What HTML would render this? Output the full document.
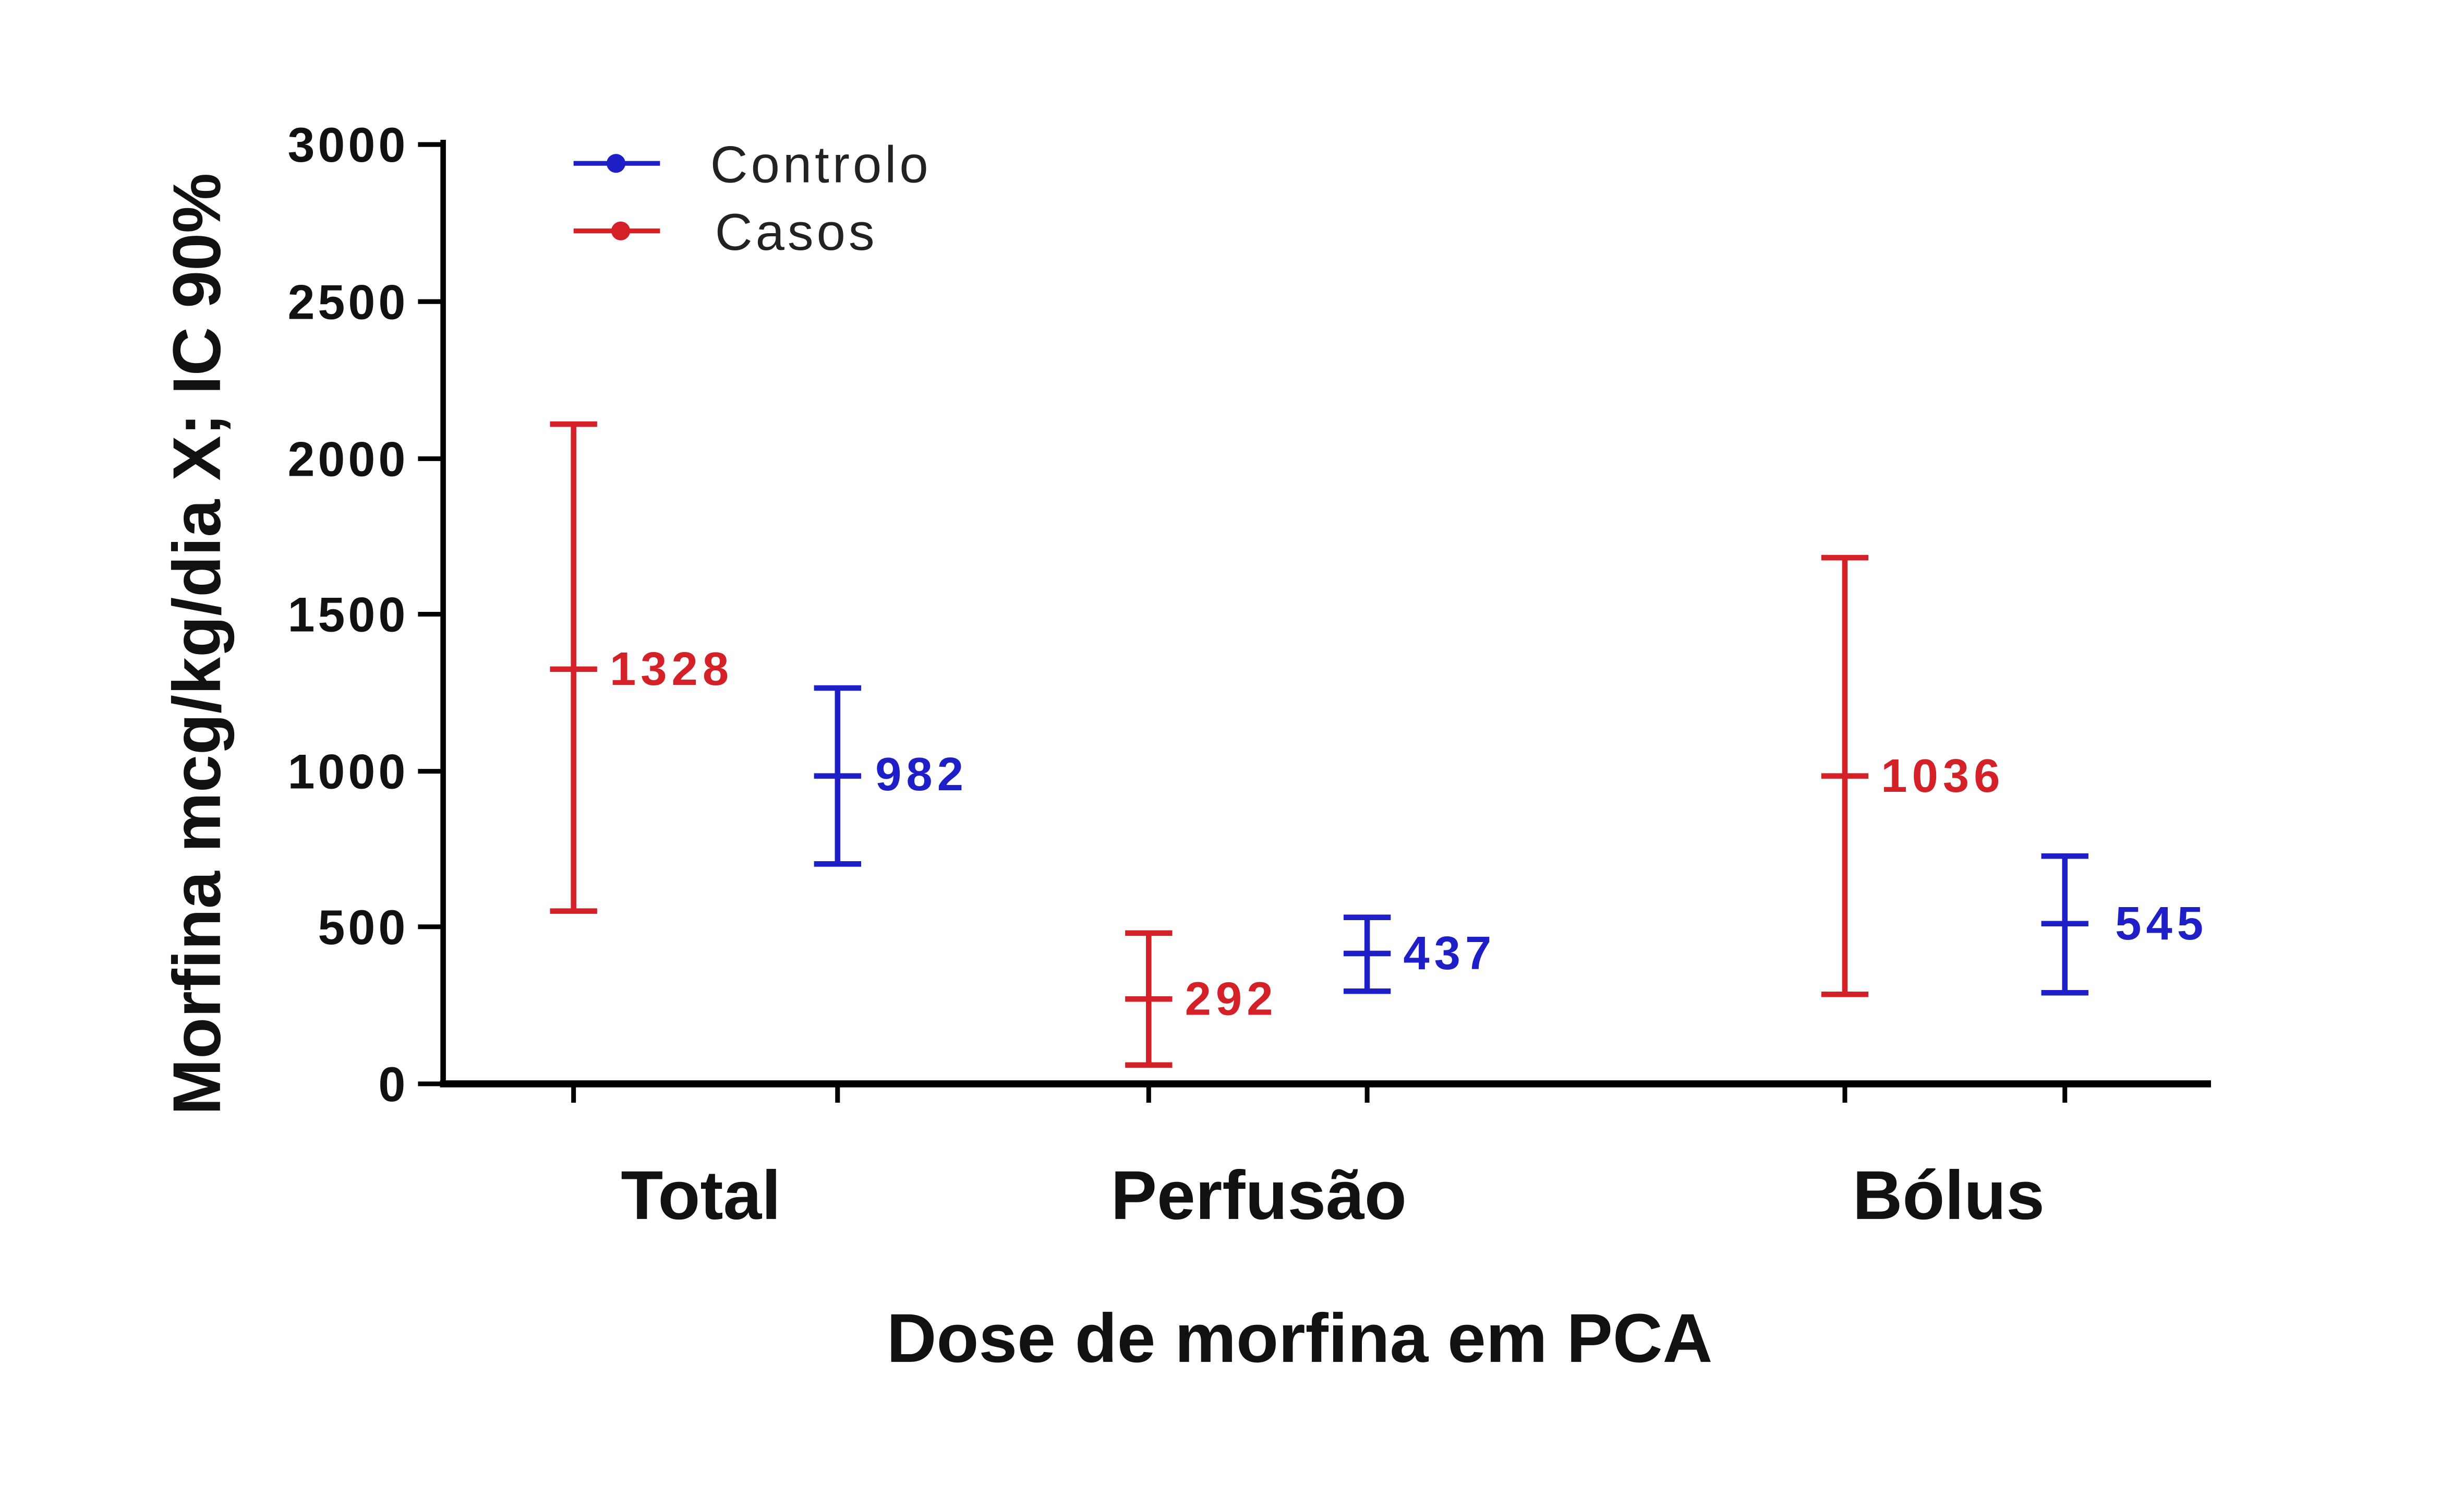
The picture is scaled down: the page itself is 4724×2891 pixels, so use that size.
<!DOCTYPE html>
<html><head><meta charset="utf-8"><style>html,body{margin:0;padding:0;background:#fff}svg{display:block}</style></head>
<body>
<svg width="4724" height="2891" viewBox="0 0 1568 960" preserveAspectRatio="none" xmlns="http://www.w3.org/2000/svg" font-family="Liberation Sans, DejaVu Sans, sans-serif">
<rect width="1568" height="960" fill="#fff"/>
<line x1="282" y1="89" x2="282" y2="692" stroke="#000" stroke-width="3.5"/>
<line x1="280" y1="690" x2="1407" y2="690" stroke="#000" stroke-width="4.5"/>
<g stroke="#000" stroke-width="3">
<line x1="266" y1="92" x2="282" y2="92"/><line x1="266" y1="192" x2="282" y2="192"/>
<line x1="266" y1="292" x2="282" y2="292"/><line x1="266" y1="391" x2="282" y2="391"/>
<line x1="266" y1="491" x2="282" y2="491"/><line x1="266" y1="590" x2="282" y2="590"/>
<line x1="266" y1="690" x2="282" y2="690"/>
<line x1="365" y1="690" x2="365" y2="702"/><line x1="533" y1="690" x2="533" y2="702"/>
<line x1="731" y1="690" x2="731" y2="702"/><line x1="870" y1="690" x2="870" y2="702"/>
<line x1="1174" y1="690" x2="1174" y2="702"/><line x1="1314" y1="690" x2="1314" y2="702"/>
</g>
<g font-size="31" font-weight="bold" text-anchor="end" fill="#111" letter-spacing="2">
<text x="260" y="103">3000</text><text x="260" y="203">2500</text><text x="260" y="303">2000</text>
<text x="260" y="402">1500</text><text x="260" y="502">1000</text><text x="260" y="601">500</text>
<text x="260" y="701">0</text>
</g>
<g stroke-width="3.5" fill="none">
<g stroke="#d42027">
<path d="M365 270V580M350 270H380M350 580H380M350 426H380"/>
<path d="M731 594V678M716 594H746M716 678H746M716 636H746"/>
<path d="M1174 355V633M1159 355H1189M1159 633H1189M1159 494H1189"/>
</g>
<g stroke="#1f1fc8">
<path d="M533 438V550M518 438H548M518 550H548M518 494H548"/>
<path d="M870 584V631M855 584H885M855 631H885M855 607H885"/>
<path d="M1314 545V632M1299 545H1329M1299 632H1329M1299 588H1329"/>
</g>
</g>
<g font-size="30" font-weight="bold" letter-spacing="3">
<text x="388" y="436" fill="#d42027">1328</text>
<text x="557" y="503" fill="#1f1fc8">982</text>
<text x="754" y="646" fill="#d42027">292</text>
<text x="893" y="617" fill="#1f1fc8">437</text>
<text x="1197" y="504" fill="#d42027">1036</text>
<text x="1346" y="598" fill="#1f1fc8">545</text>
</g>
<line x1="365" y1="104" x2="420" y2="104" stroke="#1f1fc8" stroke-width="3"/>
<circle cx="392" cy="104" r="6" fill="#1f1fc8"/>
<line x1="365" y1="147" x2="420" y2="147" stroke="#d42027" stroke-width="3"/>
<circle cx="395" cy="147" r="6" fill="#d42027"/>
<g font-size="33" fill="#222" letter-spacing="2">
<text x="452" y="116">Controlo</text><text x="455" y="159">Casos</text>
</g>
<g font-size="44" font-weight="bold" text-anchor="middle" fill="#111">
<text x="446" y="776">Total</text><text x="801" y="776">Perfusão</text><text x="1240" y="776">Bólus</text>
<text x="827" y="867" font-size="44">Dose de morfina em PCA</text>
</g>
<text transform="translate(140,410) rotate(-90)" font-size="43" font-weight="bold" text-anchor="middle" fill="#111">Morfina mcg/kg/dia X; IC 90%</text>
</svg>
</body></html>
